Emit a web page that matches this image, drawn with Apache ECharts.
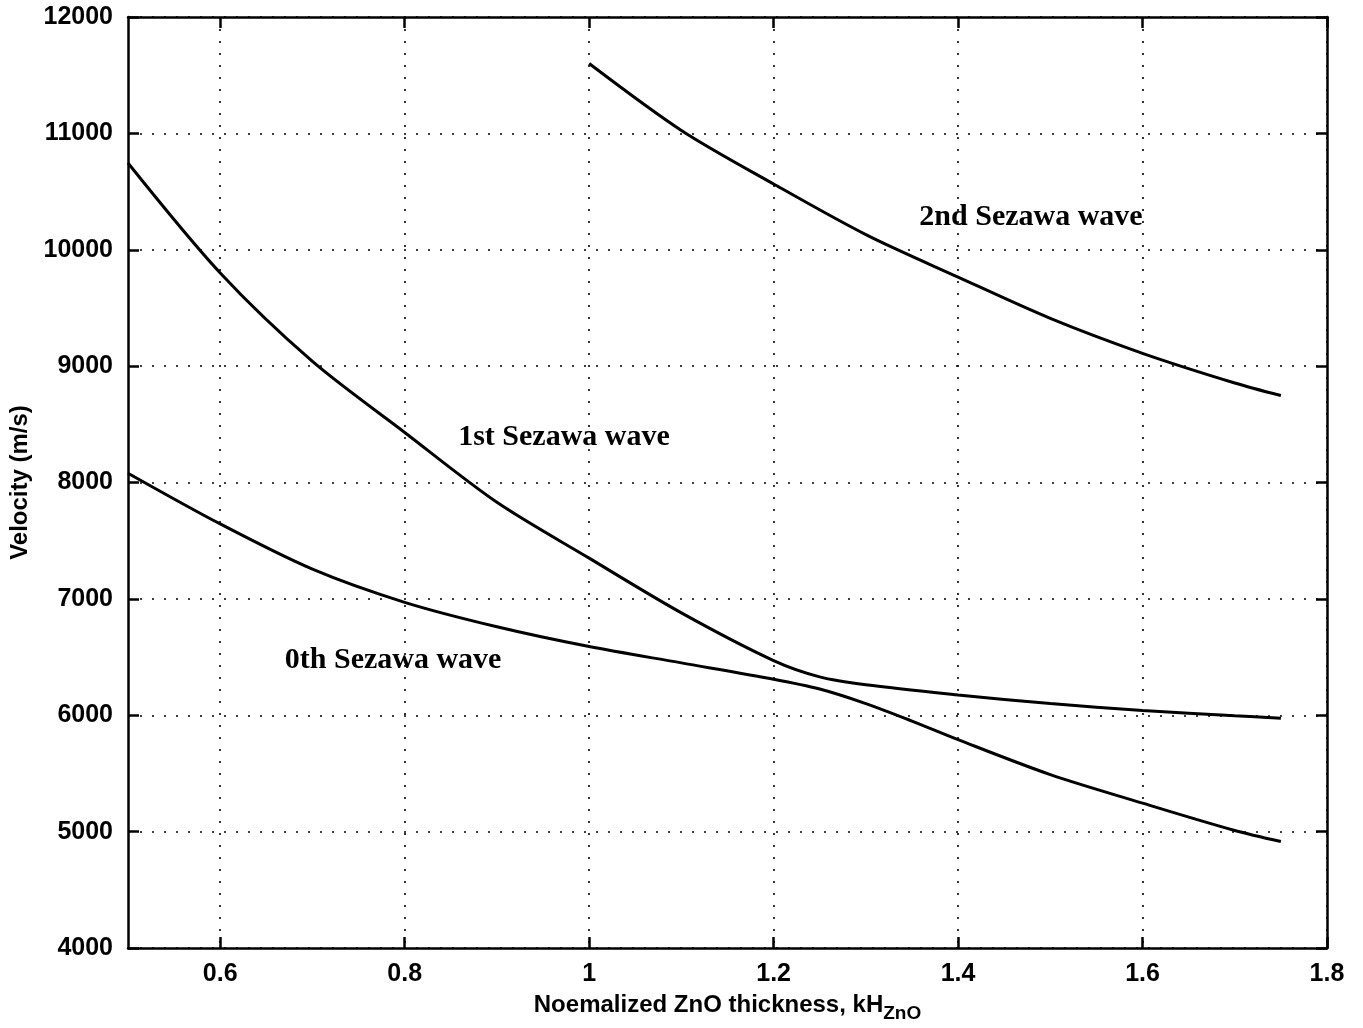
<!DOCTYPE html>
<html>
<head>
<meta charset="utf-8">
<script src="https://cdn.jsdelivr.net/npm/echarts@6/dist/echarts.min.js"></script>
<style>
  html, body { margin: 0; padding: 0; background: #fff; }
  #chart { width: 1363px; height: 1028px; }
</style>
</head>
<body>
<div id="chart"></div>
<script>
// values
const xTicks = [0.6, 0.8, 1.0, 1.2, 1.4, 1.6, 1.8]

const xZeroth = [0.5, 0.6, 0.7, 0.8, 0.9, 1.0, 1.1, 1.2, 1.25, 1.3, 1.35, 1.4, 1.5, 1.6, 1.7, 1.75]
const vZeroth = [8080, 7644, 7255, 6970, 6760, 6590, 6450, 6310, 6225, 6100, 5950, 5790, 5490, 5245, 5010, 4915]

const xFirst = [0.5, 0.6, 0.7, 0.8, 0.9, 1.0, 1.1, 1.2, 1.25, 1.3, 1.4, 1.5, 1.6, 1.7, 1.75]
const vFirst = [10745, 9800, 9040, 8430, 7830, 7350, 6880, 6470, 6330, 6262, 6175, 6100, 6040, 5995, 5975]

const xSecond = [1.0, 1.1, 1.2, 1.3, 1.4, 1.5, 1.6, 1.7, 1.75]
const vSecond = [11600, 11025, 10565, 10130, 9765, 9410, 9110, 8855, 8747]

const labelNames = ['0th Sezawa wave', '1st Sezawa wave', '2nd Sezawa wave']
const labelX = [0.670, 0.858, 1.358]
const labelY = [6476, 8392, 10282]

const pairs = (xs, ys) => xs.map((x, i) => [x, ys[i]])

const tickFont = { fontFamily: 'Liberation Sans, Arial', fontWeight: 'bold', fontSize: 25, color: '#000' }
const dotted = { color: '#000', width: 1.6, type: [2, 10] }

const curve = (name, data) => ({
  name,
  type: 'line',
  data,
  smooth: 0.3,
  showSymbol: false,
  lineStyle: { color: '#000', width: 3 },
  xAxisIndex: 0,
  yAxisIndex: 0
})

let myChart = echarts.init(document.getElementById('chart'))

const option = {
  animation: false,
  backgroundColor: '#fff',
  grid: { left: 128, top: 17, right: 36, bottom: 80, containLabel: false, outerBoundsMode: 'none' },
  xAxis: [
    {
      type: 'value', min: 0.5, max: 1.8,
      name: '{a|Noemalized ZnO thickness, kH}{s|ZnO}',
      nameLocation: 'middle', nameGap: 40,
      nameTextStyle: {
        rich: {
          a: { fontFamily: 'Liberation Sans, Arial', fontWeight: 'bold', fontSize: 24, color: '#000' },
          s: { fontFamily: 'Liberation Sans, Arial', fontWeight: 'bold', fontSize: 19, color: '#000', padding: [16, 0, 0, 0] }
        }
      },
      axisLine: { show: true, onZero: false, lineStyle: { color: '#000', width: 2.5 } },
      axisTick: { show: true, inside: true, length: 11, customValues: xTicks, lineStyle: { color: '#000', width: 2.5 } },
      axisLabel: { ...tickFont, margin: 14, customValues: xTicks, formatter: v => String(+v.toFixed(1)) },
      splitLine: { show: true, lineStyle: dotted }
    },
    {
      type: 'value', min: 0.5, max: 1.8, position: 'top',
      axisLine: { show: true, onZero: false, lineStyle: { color: '#000', width: 2.5 } },
      axisTick: { show: true, inside: true, length: 11, customValues: xTicks, lineStyle: { color: '#000', width: 2.5 } },
      axisLabel: { show: false },
      splitLine: { show: false }
    }
  ],
  yAxis: [
    {
      type: 'value', min: 4000, max: 12000, interval: 1000,
      name: 'Velocity (m/s)',
      nameLocation: 'middle', nameGap: 90,
      nameTextStyle: { fontFamily: 'Liberation Sans, Arial', fontWeight: 'bold', fontSize: 24, color: '#000' },
      axisLine: { show: true, onZero: false, lineStyle: { color: '#000', width: 2.5 } },
      axisTick: { show: true, inside: true, length: 11, lineStyle: { color: '#000', width: 2.5 } },
      axisLabel: { ...tickFont, margin: 15, formatter: v => String(v) },
      splitLine: { show: true, lineStyle: dotted }
    },
    {
      type: 'value', min: 4000, max: 12000, interval: 1000, position: 'right',
      axisLine: { show: true, onZero: false, lineStyle: { color: '#000', width: 2.5 } },
      axisTick: { show: true, inside: true, length: 11, lineStyle: { color: '#000', width: 2.5 } },
      axisLabel: { show: false },
      splitLine: { show: false }
    }
  ],
  series: [
    curve('0th', pairs(xZeroth, vZeroth)),
    curve('1st', pairs(xFirst, vFirst)),
    curve('2nd', pairs(xSecond, vSecond))
  ]
}

myChart.setOption(option)

// curve labels, placed in data coordinates
const labels = labelNames.map((t, i) => {
  const p = myChart.convertToPixel({ gridIndex: 0 }, [labelX[i], labelY[i]])
  return {
    type: 'text', x: p[0], y: p[1],
    style: {
      text: t, fill: '#000',
      font: 'bold 30px "Liberation Serif", "Times New Roman", serif',
      verticalAlign: 'middle', align: 'left'
    }
  }
})
myChart.setOption({ graphic: labels })
</script>
</body>
</html>
